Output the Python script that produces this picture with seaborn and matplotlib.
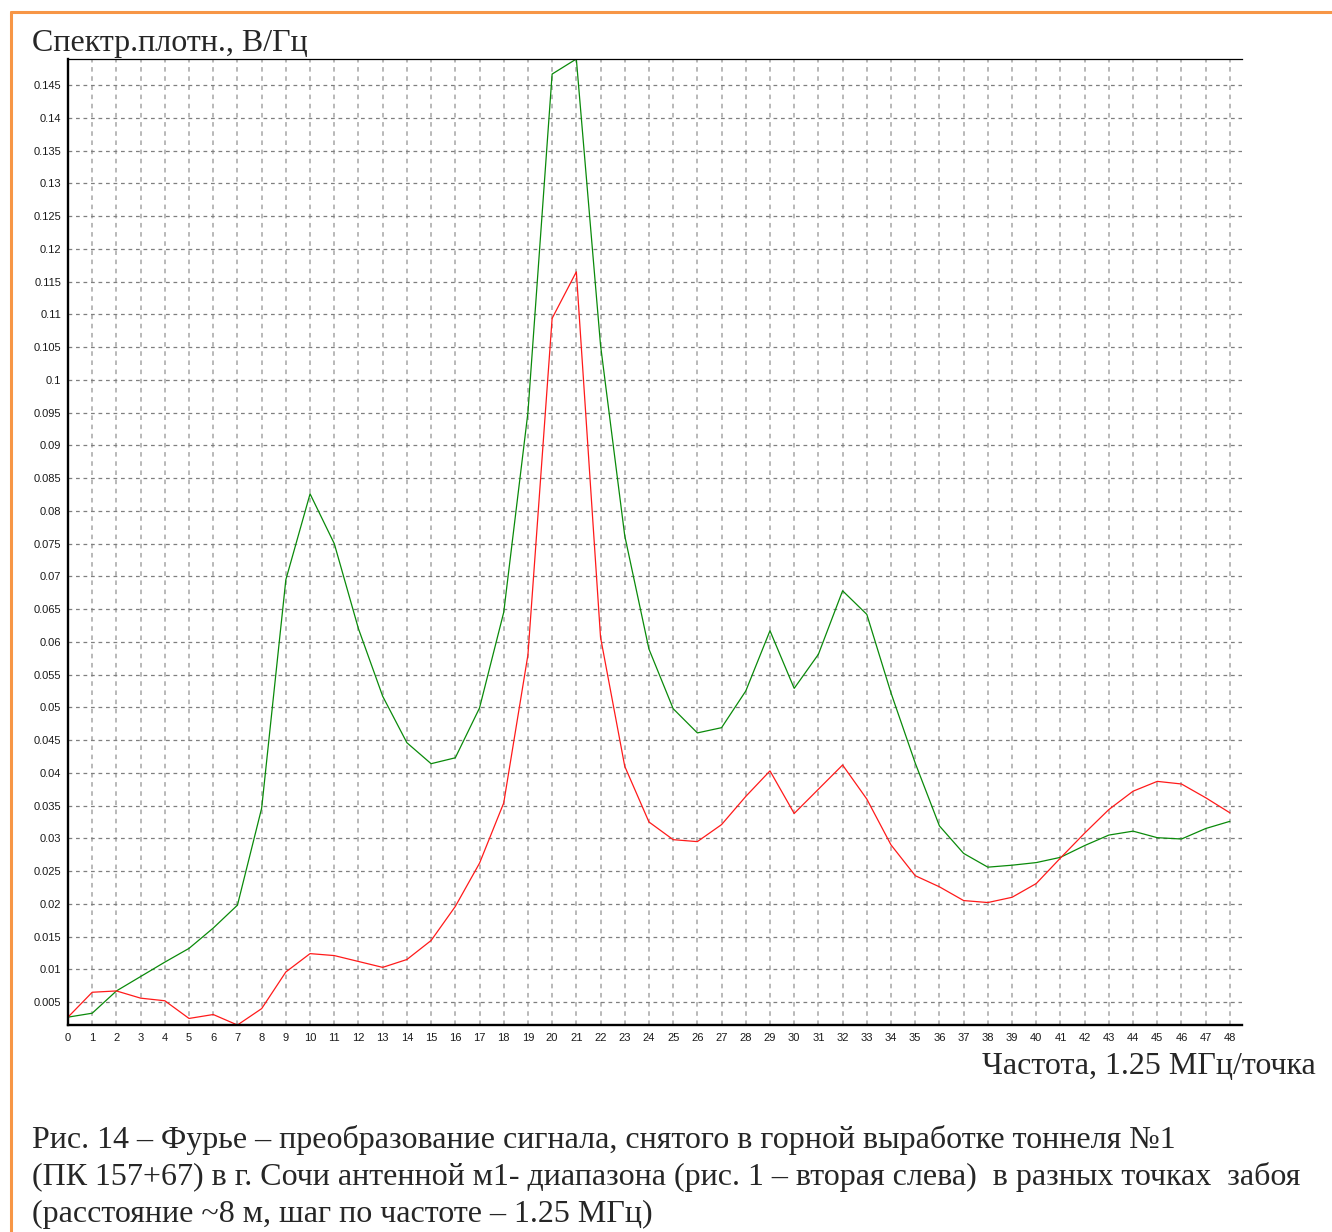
import numpy as np
import pandas as pd
import matplotlib
matplotlib.use("Agg")
import matplotlib.pyplot as plt
import seaborn as sns
from matplotlib.lines import Line2D
from matplotlib.ticker import MultipleLocator

# Frequency index (1.25 MHz per point)
freq_points = list(range(49))

# Spectral density, V/Hz, for the two face positions
green_series = [0.0027, 0.0033, 0.0067, 0.0089, 0.0111, 0.0132, 0.0163, 0.0198, 0.0346, 0.0695,
                0.0826, 0.0750, 0.0620, 0.0517, 0.0446, 0.0414, 0.0423, 0.0499, 0.0645, 0.0950,
                0.1467, 0.1490, 0.1053, 0.0762, 0.0589, 0.0498, 0.0461, 0.0469, 0.0525, 0.0617,
                0.0529, 0.0581, 0.0678, 0.0642, 0.0522, 0.0415, 0.0319, 0.0277, 0.0256, 0.0259,
                0.0263, 0.0271, 0.0289, 0.0305, 0.0311, 0.0301, 0.0299, 0.0315, 0.0326]
red_series = [0.0027, 0.0065, 0.0067, 0.0056, 0.0052, 0.0025, 0.0031, 0.0015, 0.0040, 0.0096,
              0.0124, 0.0121, 0.0112, 0.0103, 0.0115, 0.0144, 0.0196, 0.0262, 0.0354, 0.0580,
              0.1094, 0.1165, 0.0607, 0.0410, 0.0325, 0.0298, 0.0295, 0.0321, 0.0364, 0.0403,
              0.0338, 0.0375, 0.0412, 0.0360, 0.0290, 0.0243, 0.0226, 0.0205, 0.0202, 0.0210,
              0.0231, 0.0270, 0.0308, 0.0344, 0.0372, 0.0387, 0.0383, 0.0362, 0.0339]

y_ticks = [0.005, 0.01, 0.015, 0.02, 0.025, 0.03, 0.035, 0.04, 0.045, 0.05,
           0.055, 0.06, 0.065, 0.07, 0.075, 0.08, 0.085, 0.09, 0.095, 0.1,
           0.105, 0.11, 0.115, 0.12, 0.125, 0.13, 0.135, 0.14, 0.145]
y_tick_labels = ["0.005", "0.01", "0.015", "0.02", "0.025", "0.03", "0.035", "0.04", "0.045", "0.05",
                 "0.055", "0.06", "0.065", "0.07", "0.075", "0.08", "0.085", "0.09", "0.095", "0.1",
                 "0.105", "0.11", "0.115", "0.12", "0.125", "0.13", "0.135", "0.14", "0.145"]

y_title = "Спектр.плотн., В/Гц"
x_title = "Частота, 1.25 МГц/точка"
caption_lines = [
    "Рис. 14 – Фурье – преобразование сигнала, снятого в горной выработке тоннеля №1",
    "(ПК 157+67) в г. Сочи антенной м1- диапазона (рис. 1 – вторая слева)  в разных точках  забоя",
    "(расстояние ~8 м, шаг по частоте – 1.25 МГц)",
]

df = pd.DataFrame({
    "point": freq_points * 2,
    "value": green_series + red_series,
    "trace": ["A"] * len(green_series) + ["B"] * len(red_series),
})

sns.set_style("white")
plt.rcParams["font.family"] = ["Liberation Sans", "DejaVu Sans"]

W, H = 1332, 1232
fig = plt.figure(figsize=(W / 100, H / 100), dpi=100)
fig.patch.set_facecolor("white")

ax_l, ax_r, ax_t, ax_b = 68, 1242, 59, 1025
ax = fig.add_axes([ax_l / W, 1 - ax_b / H, (ax_r - ax_l) / W, (ax_b - ax_t) / H])

sns.lineplot(data=df, x="point", y="value", hue="trace",
             palette={"A": "#0a8a0a", "B": "#ff1a1a"},
             linewidth=0.9, legend=False, estimator=None, sort=False, ax=ax)

all_vals = green_series + red_series
ax.set_xlim(0, 48.5)
ax.set_ylim(min(all_vals), max(all_vals))

ax.set_xticks(freq_points)
ax.set_xticklabels([str(v) for v in freq_points])
ax.set_yticks(y_ticks)
ax.set_yticklabels(y_tick_labels)
ax.xaxis.set_minor_locator(MultipleLocator(0.2))
ax.set_xlabel("")
ax.set_ylabel("")

ax.grid(axis="x", which="major", color="#a6a6a6", linestyle=(0, (3, 3)), linewidth=1.1)
ax.grid(axis="y", which="major", color="#7f7f7f", linestyle=(0, (3, 3)), linewidth=0.9)
ax.set_axisbelow(True)

ax.tick_params(axis="both", which="major", direction="out", length=3, width=1,
               labelsize=8, colors="#000000", labelcolor="#1a1a1a", pad=2)
ax.tick_params(axis="x", which="minor", direction="out", length=2, width=0.8, colors="#000000")
ax.tick_params(axis="x", which="major", pad=3)

for side in ["left", "bottom"]:
    ax.spines[side].set_linewidth(1.7)
    ax.spines[side].set_color("black")
ax.spines["top"].set_linewidth(0.9)
ax.spines["top"].set_color("black")
ax.spines["right"].set_visible(False)

serif = ["Liberation Serif", "DejaVu Serif"]
fs = 23
fig.text(32 / W, 1 - 43 / H, y_title, family=serif, fontsize=fs, ha="left", va="center")
fig.text(1316 / W, 1 - 1066 / H, x_title, family=serif, fontsize=fs, ha="right", va="center")
for i, line in enumerate(caption_lines):
    fig.text(32 / W, 1 - (1140 + 37 * i) / H, line, family=serif, fontsize=fs,
             ha="left", va="center")

# Frame lines along the top and left edges of the page
orange = "#f79646"
fig.add_artist(Line2D([11 / W, 1.0], [1 - 12 / H, 1 - 12 / H], transform=fig.transFigure,
                      color=orange, linewidth=2.2))
fig.add_artist(Line2D([11 / W, 11 / W], [0.0, 1 - 12 / H], transform=fig.transFigure,
                      color=orange, linewidth=2.2))

fig.savefig("out.png", dpi=100, facecolor="white")
